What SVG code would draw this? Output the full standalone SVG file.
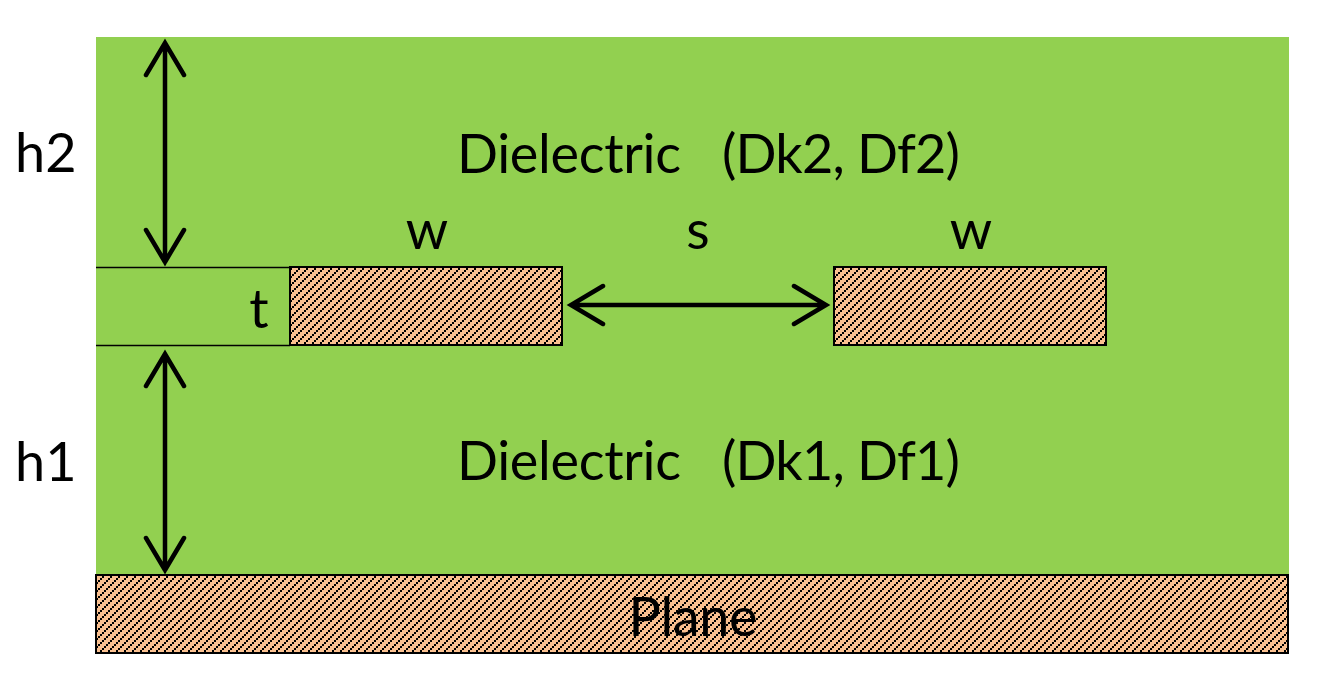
<svg xmlns="http://www.w3.org/2000/svg" width="1334" height="695" viewBox="0 0 1334 695">
<style>
text{font-family:Lato,"Open Sans",sans-serif;font-size:54px;fill:#000}
.m{fill:url(#h);stroke:#000;stroke-width:2}
.l{stroke:#000;stroke-width:1.5;fill:none}
.a{stroke:#000;stroke-width:4.500;fill:none;stroke-linecap:round;stroke-linejoin:miter}
</style>
<defs><pattern id="h" width="8" height="8" patternUnits="userSpaceOnUse"><rect width="8" height="8" fill="#fac090"/><path d="M0 6h2v2H0zM2 4h2v2H2zM4 2h2v2H4zM6 0h2v2H6z" fill="#000" shape-rendering="crispEdges"/></pattern></defs>
<rect width="1334" height="695" fill="#fff"/>
<rect id="dielectric" x="96" y="37" width="1193" height="538" fill="#92d050"/>
<g id="plane"><rect class="m" x="96" y="575" width="1192" height="78"/><text x="693" y="636" text-anchor="middle" textLength="129">Plane</text></g>
<g id="trace-left"><rect class="m" x="290" y="267" width="272" height="78"/></g>
<g id="trace-right"><rect class="m" x="834" y="267" width="272" height="78"/></g>
<g id="connectors">
<path class="l" d="M96 267.500H290M96 345.500H290"/>
<path class="a" d="M165 44V262M146 75L165 43L184 75M146 230L165 262L184 230"/>
<path class="a" d="M165 356V570M146 386L165 354L184 386M146 538L165 570L184 538"/>
<path class="a" d="M571 305H826M603 286L571 305L603 324M794 286L826 305L794 324"/>
</g>
<g id="labels">
<text x="15" y="172">h2</text>
<text x="15" y="481">h1</text>
<text x="457" y="173" textLength="224">Dielectric</text>
<text x="722" y="173" textLength="238">(Dk2, Df2)</text>
<text x="457" y="480" textLength="224">Dielectric</text>
<text x="722" y="480" textLength="238">(Dk1, Df1)</text>
<text x="427" y="249" text-anchor="middle">w</text>
<text x="971" y="249" text-anchor="middle">w</text>
<text x="698" y="249" text-anchor="middle">s</text>
<text x="259" y="328" text-anchor="middle">t</text>
</g>
</svg>
